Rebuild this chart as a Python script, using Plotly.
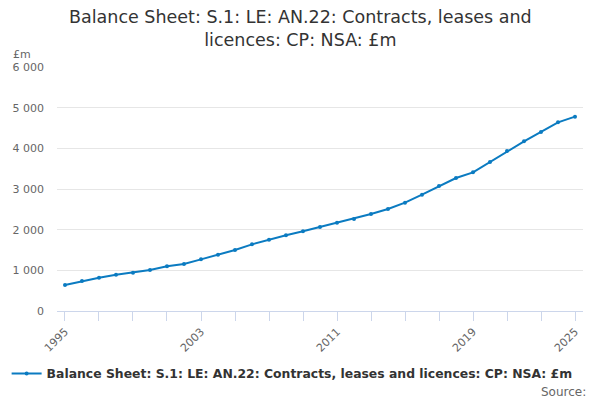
import plotly.graph_objects as go

years = list(range(1995, 2026))
values = [639, 738, 820, 893, 943, 1008, 1098, 1156, 1270, 1385, 1500, 1639, 1754, 1861,
          1959, 2066, 2172, 2262, 2385, 2508, 2664, 2861, 3074, 3270, 3410, 3664, 3934,
          4172, 4402, 4639, 4779]
x_tick_vals = list(range(1995, 2026, 2))
x_label_years = [1995, 2003, 2011, 2019, 2025]
y_tick_vals = [0, 1000, 2000, 3000, 4000, 5000, 6000]
y_tick_text = ["0", "1 000", "2 000", "3 000", "4 000", "5 000", "6 000"]

series_name = "Balance Sheet: S.1: LE: AN.22: Contracts, leases and licences: CP: NSA: £m"
title_text = "Balance Sheet: S.1: LE: AN.22: Contracts, leases and<br>licences: CP: NSA: £m"

color = "#0b7bc1"
font_family = "DejaVu Sans"

fig = go.Figure()
fig.add_trace(go.Scatter(
    x=years, y=values, mode="lines+markers", name="<b>" + series_name + "</b>",
    line=dict(color=color, width=2),
    marker=dict(color=color, size=4),
    showlegend=True,
))

tickvals = sorted(set(x_tick_vals + x_label_years))
ticktext = [str(v) if v in x_label_years else "" for v in tickvals]

fig.update_layout(
    width=600, height=400,
    margin=dict(l=57, r=17, t=67, b=89, autoexpand=False),
    paper_bgcolor="white", plot_bgcolor="white",
    font=dict(family=font_family, color="#666666", size=11),
    xaxis=dict(range=[1994.53, 2025.47], tickmode="array", tickvals=tickvals,
               ticktext=ticktext, tickangle=-45, ticks="outside", ticklen=9,
               tickcolor="#ccd6eb", showline=True, linecolor="#ccd6eb", linewidth=1,
               showgrid=False, zeroline=False, tickfont=dict(size=11, color="#666666")),
    yaxis=dict(range=[0, 6000], tickmode="array", tickvals=y_tick_vals,
               ticktext=y_tick_text, showgrid=True, gridcolor="#e6e6e6",
               zeroline=False, showline=False, ticks="", ticklabelstandoff=12,
               tickfont=dict(size=11, color="#666666")),
    legend=dict(orientation="h", x=0.447, xanchor="center", y=-0.258, yanchor="middle",
                font=dict(size=12.4, color="#333333", family=font_family),
                itemwidth=30),
    annotations=[
        dict(text=title_text, xref="paper", yref="paper", x=0.462, y=1.156,
             xanchor="center", yanchor="middle", showarrow=False,
             font=dict(size=17.5, color="#333333", family=font_family)),
        dict(text="£m", xref="paper", yref="paper", x=-0.087, y=1.053,
             xanchor="left", yanchor="middle", showarrow=False,
             font=dict(size=11, color="#666666")),
        dict(text="Source:", xref="paper", yref="paper", x=1.01, y=-0.33,
             xanchor="right", yanchor="middle", showarrow=False,
             font=dict(size=12, color="#666666")),
    ],
)

fig.write_html("out.html", config={"displayModeBar": False},
               post_script="document.body.style.margin='0px';")
